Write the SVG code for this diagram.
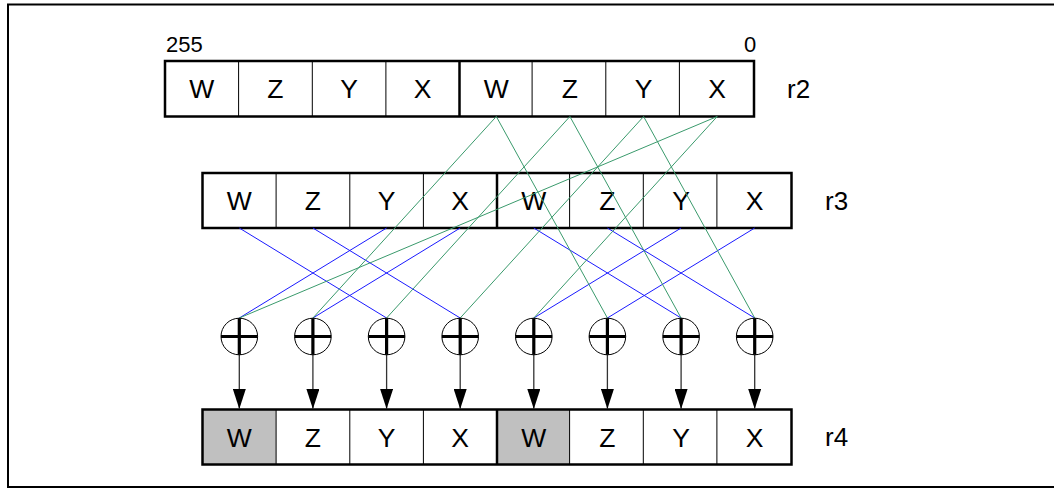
<svg xmlns="http://www.w3.org/2000/svg" width="1054" height="489" viewBox="0 0 1054 489">
<style>
.frame{fill:none;stroke:#000;stroke-width:2}
.box{fill:none;stroke:#000;stroke-width:2.5}
.cell{fill:#fff;stroke:#000;stroke-width:1}
.gray{fill:#c0c0c0}
.mid{stroke:#000;stroke-width:2.5}
.t{font-family:"Liberation Sans",Arial,sans-serif;font-size:26.5px;fill:#000;text-anchor:middle}
.lbl{font-family:"Liberation Sans",Arial,sans-serif;font-size:26px;fill:#000}
.num{font-family:"Liberation Sans",Arial,sans-serif;font-size:22px;fill:#000}
.g{stroke:#3a9a6c;stroke-width:1;fill:none}
.b{stroke:#1a1aff;stroke-width:1;fill:none}
.ring{fill:#fff;stroke:#000;stroke-width:1}
.cross{stroke:#000;stroke-width:3.2}
.arr{stroke:#333;stroke-width:1.3;marker-end:url(#ah)}
</style>
<defs>
<marker id="ah" markerUnits="userSpaceOnUse" markerWidth="20" markerHeight="13" viewBox="0 0 20 13" refX="20" refY="6.5" orient="auto">
<path d="M0,0 L20,6.5 L0,13 z" fill="#000"/>
</marker>
<g id="xor">
<circle cx="0" cy="0" r="18.3" class="ring"/>
<line x1="-18.3" y1="0" x2="18.3" y2="0" class="cross"/>
<line x1="0" y1="-18.3" x2="0" y2="18.3" class="cross"/>
</g>
</defs>
<rect class="frame" x="8" y="4.5" width="1060" height="482.5"/>

<g id="r2">
<rect class="cell" x="165" y="61" width="589" height="55.5"/>
<line class="cell" x1="238.6" y1="61" x2="238.6" y2="116.5"/>
<line class="cell" x1="312.3" y1="61" x2="312.3" y2="116.5"/>
<line class="cell" x1="385.9" y1="61" x2="385.9" y2="116.5"/>
<line class="cell" x1="532.1" y1="61" x2="532.1" y2="116.5"/>
<line class="cell" x1="605.8" y1="61" x2="605.8" y2="116.5"/>
<line class="cell" x1="679.4" y1="61" x2="679.4" y2="116.5"/>
<line class="mid" x1="459.5" y1="61" x2="459.5" y2="116.5"/>
<rect class="box" x="165" y="61" width="589" height="55.5"/>
<text class="t" x="201.8" y="98.2">W</text>
<text class="t" x="275.4" y="98.2">Z</text>
<text class="t" x="349.1" y="98.2">Y</text>
<text class="t" x="422.7" y="98.2">X</text>
<text class="t" x="496.3" y="98.2">W</text>
<text class="t" x="569.9" y="98.2">Z</text>
<text class="t" x="643.6" y="98.2">Y</text>
<text class="t" x="717.2" y="98.2">X</text>
<text class="num" x="166" y="52">255</text>
<text class="num" x="744" y="52">0</text>
<text class="lbl" x="787" y="98">r2</text>
</g>

<g id="r3">
<rect class="cell" x="202.5" y="173" width="589" height="55"/>
<line class="cell" x1="276.1" y1="173" x2="276.1" y2="228"/>
<line class="cell" x1="349.8" y1="173" x2="349.8" y2="228"/>
<line class="cell" x1="423.4" y1="173" x2="423.4" y2="228"/>
<line class="cell" x1="569.6" y1="173" x2="569.6" y2="228"/>
<line class="cell" x1="643.3" y1="173" x2="643.3" y2="228"/>
<line class="cell" x1="716.9" y1="173" x2="716.9" y2="228"/>
<line class="mid" x1="497" y1="173" x2="497" y2="228"/>
<rect class="box" x="202.5" y="173" width="589" height="55"/>
<text class="t" x="239.3" y="210">W</text>
<text class="t" x="312.9" y="210">Z</text>
<text class="t" x="386.6" y="210">Y</text>
<text class="t" x="460.2" y="210">X</text>
<text class="t" x="533.8" y="210">W</text>
<text class="t" x="607.4" y="210">Z</text>
<text class="t" x="681.1" y="210">Y</text>
<text class="t" x="754.7" y="210">X</text>
<text class="lbl" x="825" y="210">r3</text>
</g>

<g id="r4">
<rect class="cell" x="202.5" y="409.5" width="589" height="55"/>
<rect class="gray" x="202.5" y="409.5" width="73.6" height="55"/>
<rect class="gray" x="497" y="409.5" width="72.6" height="55"/>
<line class="cell" x1="276.1" y1="409.5" x2="276.1" y2="464.5"/>
<line class="cell" x1="349.8" y1="409.5" x2="349.8" y2="464.5"/>
<line class="cell" x1="423.4" y1="409.5" x2="423.4" y2="464.5"/>
<line class="cell" x1="569.6" y1="409.5" x2="569.6" y2="464.5"/>
<line class="cell" x1="643.3" y1="409.5" x2="643.3" y2="464.5"/>
<line class="cell" x1="716.9" y1="409.5" x2="716.9" y2="464.5"/>
<line class="mid" x1="497" y1="409.5" x2="497" y2="464.5"/>
<rect class="box" x="202.5" y="409.5" width="589" height="55"/>
<text class="t" x="239.3" y="446.5">W</text>
<text class="t" x="312.9" y="446.5">Z</text>
<text class="t" x="386.6" y="446.5">Y</text>
<text class="t" x="460.2" y="446.5">X</text>
<text class="t" x="533.8" y="446.5">W</text>
<text class="t" x="607.4" y="446.5">Z</text>
<text class="t" x="681.1" y="446.5">Y</text>
<text class="t" x="754.7" y="446.5">X</text>
<text class="lbl" x="825" y="446">r4</text>
</g>

<g id="connectors">
<line class="b" x1="386.6" y1="228" x2="239.3" y2="318"/>
<line class="b" x1="460.2" y1="228" x2="312.9" y2="318"/>
<line class="b" x1="239.3" y1="228" x2="386.6" y2="318"/>
<line class="b" x1="312.9" y1="228" x2="460.2" y2="318"/>
<line class="b" x1="681.1" y1="228" x2="533.8" y2="318"/>
<line class="b" x1="754.7" y1="228" x2="607.4" y2="318"/>
<line class="b" x1="533.8" y1="228" x2="681.1" y2="318"/>
<line class="b" x1="607.4" y1="228" x2="754.7" y2="318"/>
<line class="g" x1="717.2" y1="116.5" x2="239.3" y2="318"/>
<line class="g" x1="496.3" y1="116.5" x2="312.9" y2="318"/>
<line class="g" x1="569.9" y1="116.5" x2="386.6" y2="318"/>
<line class="g" x1="643.6" y1="116.5" x2="460.2" y2="318"/>
<line class="g" x1="717.2" y1="116.5" x2="533.8" y2="318"/>
<line class="g" x1="496.3" y1="116.5" x2="607.4" y2="318"/>
<line class="g" x1="569.9" y1="116.5" x2="681.1" y2="318"/>
<line class="g" x1="643.6" y1="116.5" x2="754.7" y2="318"/>
<line class="arr" x1="239.3" y1="355" x2="239.3" y2="409"/>
<line class="arr" x1="312.9" y1="355" x2="312.9" y2="409"/>
<line class="arr" x1="386.6" y1="355" x2="386.6" y2="409"/>
<line class="arr" x1="460.2" y1="355" x2="460.2" y2="409"/>
<line class="arr" x1="533.8" y1="355" x2="533.8" y2="409"/>
<line class="arr" x1="607.4" y1="355" x2="607.4" y2="409"/>
<line class="arr" x1="681.1" y1="355" x2="681.1" y2="409"/>
<line class="arr" x1="754.7" y1="355" x2="754.7" y2="409"/>
</g>

<g id="xor1"><use href="#xor" x="239.3" y="336.5"/></g>
<g id="xor2"><use href="#xor" x="312.9" y="336.5"/></g>
<g id="xor3"><use href="#xor" x="386.6" y="336.5"/></g>
<g id="xor4"><use href="#xor" x="460.2" y="336.5"/></g>
<g id="xor5"><use href="#xor" x="533.8" y="336.5"/></g>
<g id="xor6"><use href="#xor" x="607.4" y="336.5"/></g>
<g id="xor7"><use href="#xor" x="681.1" y="336.5"/></g>
<g id="xor8"><use href="#xor" x="754.7" y="336.5"/></g>
</svg>
